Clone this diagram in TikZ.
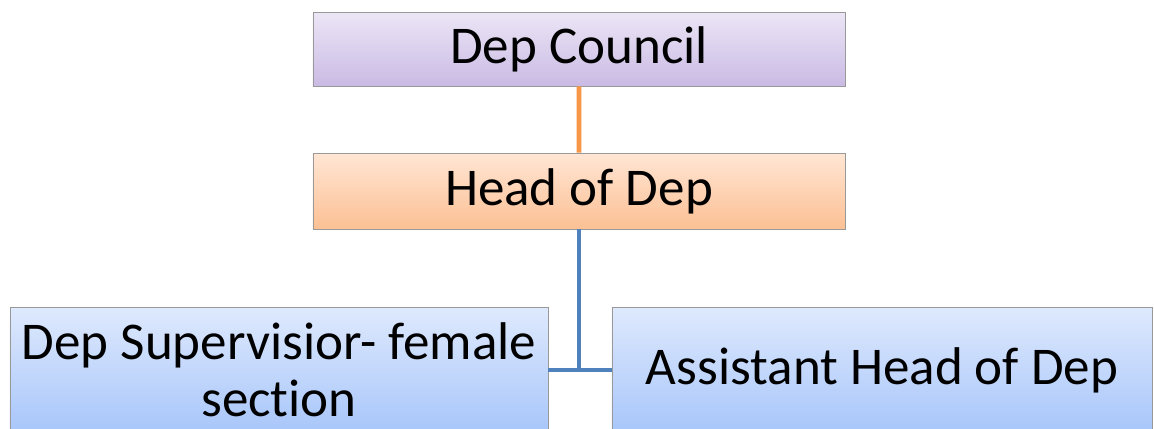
\documentclass[tikz,border=0pt]{standalone}
\usepackage{fontspec}
\setmainfont{Carlito}[Ligatures=NoCommon]
\usetikzlibrary{shadows}
\definecolor{councilTop}{RGB}{236,230,246}
\definecolor{councilBot}{RGB}{202,186,228}
\definecolor{headTop}{RGB}{255,230,212}
\definecolor{headBot}{RGB}{252,192,148}
\definecolor{staffTop}{RGB}{222,233,253}
\definecolor{staffBot}{RGB}{168,198,250}
\definecolor{linkOrange}{RGB}{247,150,70}
\definecolor{linkBlue}{RGB}{79,129,189}

\begin{document}
\begin{tikzpicture}[scale=0.2]
\tikzstyle{every node}+=[inner sep=0pt]
\tikzstyle{unit}=[draw=gray!80, line width=0.5pt, align=center,
  font=\fontsize{30.2}{32.4}\selectfont,
  drop shadow={opacity=0.25, shadow xshift=0.6pt, shadow yshift=-0.6pt}]
\tikzstyle{link}=[line width=2.8pt]
\clip (0,0) rectangle (115.4,-42.9);
\fill [white] (0,0) rectangle (115.4,-42.9);
% boxes
\node [unit, top color=councilTop, bottom color=councilBot,
  minimum width=10.64cm, minimum height=1.48cm] (council) at (57.9,-4.9) {Dep Council};
\node [unit, top color=headTop, bottom color=headBot,
  minimum width=10.64cm, minimum height=1.52cm] (head) at (57.9,-19.1) {Head of Dep};
\node [unit, top color=staffTop, bottom color=staffBot,
  minimum width=10.76cm, minimum height=2.5cm] (super) at (27.9,-37.0) {Dep Supervisior- female\\section};
\node [unit, top color=staffTop, bottom color=staffBot,
  minimum width=10.8cm, minimum height=2.5cm] (assist) at (88.2,-37.0) {Assistant Head of Dep};
% connectors
\draw [link, linkOrange] (council) -- (head);
\draw [link, linkBlue] (head.south) -- (head.south |- super.east);
\draw [link, linkBlue] (super.east) -- (assist.west);
\end{tikzpicture}
\end{document}
